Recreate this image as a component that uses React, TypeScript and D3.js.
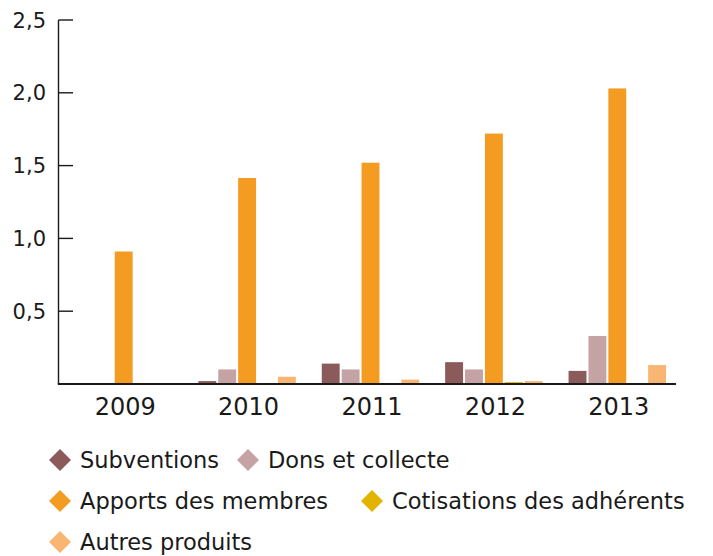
import React from "react";
import * as d3 from "d3";

// data (millions)
const years = ["2009", "2010", "2011", "2012", "2013"];
const seriesNames = [
  "Subventions",
  "Dons et collecte",
  "Apports des membres",
  "Cotisations des adhérents",
  "Autres produits",
];
const subventions = [0, 0.02, 0.14, 0.15, 0.09];
const dons = [0, 0.1, 0.1, 0.1, 0.33];
const apports = [0.91, 1.415, 1.52, 1.72, 2.03];
const cotisations = [0, 0, 0.005, 0.013, 0.005];
const autres = [0, 0.05, 0.03, 0.02, 0.13];
const colors = ["#8b5a5a", "#c5a2a4", "#f49c21", "#e2b400", "#f8b672"];
const yTicks = [0, 0.5, 1, 1.5, 2, 2.5];

const values = [subventions, dons, apports, cotisations, autres];

const W = 713;
const H = 556;
const axisX = 58.5;
const baseY = 384;
const topY = 20;
const font = "'DejaVu Sans', sans-serif";

// legend layout: rows of series indices with x positions of diamonds
const legendRows = [
  { y: 460, items: [{ s: 0, x: 60 }, { s: 1, x: 248 }] },
  { y: 501, items: [{ s: 2, x: 60 }, { s: 3, x: 372 }] },
  { y: 542, items: [{ s: 4, x: 60 }] },
];

const fmt = (v: number) => (v === 0 ? "" : d3.format(".1f")(v).replace(".", ","));

export default function App() {
  const x = d3
    .scaleBand<string>()
    .domain(years)
    .range([62, 679])
    .paddingInner(0.21)
    .paddingOuter(0.105);
  const xs = d3
    .scaleBand<number>()
    .domain(d3.range(seriesNames.length))
    .range([0, x.bandwidth()])
    .paddingInner(0.1);
  const y = d3.scaleLinear().domain([0, 2.5]).range([baseY, topY]);

  return (
    <svg width={W} height={H} style={{ position: "absolute", left: 0, top: 0, background: "#fff" }}>
      {/* bars */}
      {years.map((yr, i) => (
        <g key={yr} transform={`translate(${x(yr)},0)`}>
          {values.map((vals, s) =>
            vals[i] > 0 ? (
              <rect
                key={s}
                x={xs(s)}
                y={y(vals[i])}
                width={xs.bandwidth()}
                height={baseY - y(vals[i])}
                fill={colors[s]}
              />
            ) : null
          )}
        </g>
      ))}

      {/* y axis */}
      <line x1={axisX} x2={axisX} y1={topY} y2={baseY} stroke="#1a1a1a" strokeWidth={1.4} />
      {yTicks.map((t) => (
        <g key={t}>
          <line x1={axisX} x2={73} y1={y(t)} y2={y(t)} stroke="#1a1a1a" strokeWidth={1.4} />
          <text
            x={46}
            y={y(t) + 7.6}
            textAnchor="end"
            fontFamily={font}
            fontSize={21}
            fill="#1a1a1a"
          >
            {fmt(t)}
          </text>
        </g>
      ))}

      {/* x axis */}
      <line x1={axisX - 0.7} x2={676} y1={baseY} y2={baseY} stroke="#1a1a1a" strokeWidth={1.8} />
      {years.map((yr) => (
        <text
          key={yr}
          x={(x(yr) ?? 0) + x.bandwidth() / 2 + 1.5}
          y={415}
          textAnchor="middle"
          fontFamily={font}
          fontSize={24}
          fill="#1a1a1a"
        >
          {yr}
        </text>
      ))}

      {/* legend */}
      {legendRows.map((row) =>
        row.items.map(({ s, x: lx }) => (
          <g key={s} transform={`translate(${lx},${row.y})`}>
            <path d="M0,-11L11,0L0,11L-11,0Z" fill={colors[s]} />
            <text x={20} y={8} fontFamily={font} fontSize={22.5} fill="#1a1a1a">
              {seriesNames[s]}
            </text>
          </g>
        ))
      )}
    </svg>
  );
}
